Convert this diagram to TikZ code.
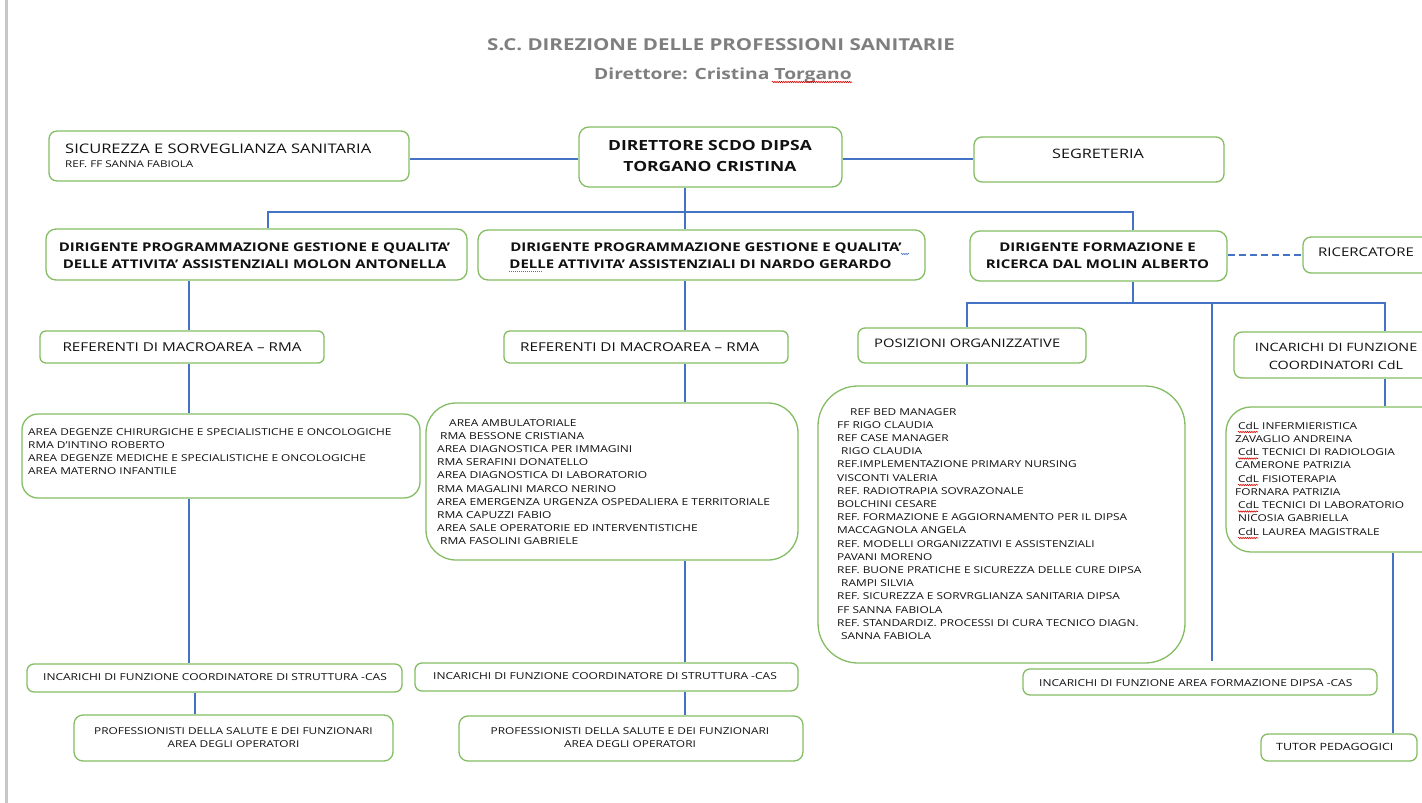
\documentclass[tikz,border=0pt]{standalone}
\usepackage{fontspec}
\setmainfont[FakeStretch=1.25]{Open Sans}
\usetikzlibrary{calc,decorations.pathmorphing}
\definecolor{gr}{HTML}{84BD63}
\definecolor{bl}{HTML}{4472C4}
\definecolor{tg}{HTML}{7F7F7F}
\definecolor{tx}{HTML}{111111}
\newcommand\fsz[1]{\fontsize{#1}{#1}\selectfont}
\begin{document}
\begin{tikzpicture}[x=1pt,y=-1pt,
  box/.style={draw=gr, line width=1.3pt, fill=white, inner sep=0pt, rounded corners=8pt},
  conn/.style={draw=bl, line width=2.6pt},
  tl/.style={inner sep=0pt, anchor=base west, text=tx},
  tc/.style={inner sep=0pt, anchor=base, text=tx},
  wavy/.style={draw=red!85!black, line width=0.6pt, decorate, decoration={snake, segment length=2.2pt, amplitude=0.7pt}}]
\clip (0,0) rectangle (1422,803);
\fill[white] (0,0) rectangle (1422,803);
\fill[black!22] (5,0) rectangle (8,803);

% title
\node[tc, text=tg, font=\fsz{16.4}\bfseries] (title) at (721,50) {S.C. DIREZIONE DELLE PROFESSIONI SANITARIE};
\node[tc, text=tg, font=\fsz{15.4}\bfseries] (subtitle) at (723,79) {Direttore: Cristina Torgano};
\draw[wavy] ($(subtitle.base east)+(-80,3)$) -- ($(subtitle.base east)+(0,3)$);

% boxes
\node[box, minimum width=360, minimum height=50] (sic) at (229,156) {};
\node[box, rounded corners=10pt, minimum width=263, minimum height=60] (dir) at (710.5,157) {};
\node[box, minimum width=250, minimum height=45] (seg) at (1099,159.5) {};
\node[box, rounded corners=10pt, minimum width=421, minimum height=51] (d1) at (256.5,254.5) {};
\node[box, rounded corners=10pt, minimum width=447, minimum height=50] (d2) at (701.5,255) {};
\node[box, rounded corners=10pt, minimum width=257, minimum height=50] (d3) at (1098.5,256) {};
\node[box, minimum width=137, minimum height=36] (ric) at (1371.5,255) {};
\node[box, rounded corners=6pt, minimum width=284, minimum height=32] (r1) at (182,347) {};
\node[box, rounded corners=6pt, minimum width=284, minimum height=32] (r2) at (646,347) {};
\node[box, rounded corners=7pt, minimum width=228, minimum height=35] (pos) at (972,345.5) {};
\node[box, rounded corners=8pt, minimum width=206, minimum height=46] (cdlh) at (1337,355) {};
\node[box, rounded corners=16pt, minimum width=398, minimum height=84] (a1) at (221,456) {};
\node[box, rounded corners=30pt, minimum width=372, minimum height=157] (a2) at (612,481.5) {};
\node[box, rounded corners=40pt, minimum width=367, minimum height=277] (ref) at (1001.5,524.5) {};
\node[box, rounded corners=25pt, minimum width=224, minimum height=145] (cdl) at (1338,479.5) {};
\node[box, rounded corners=7pt, minimum width=375, minimum height=28] (i1) at (214.5,678) {};
\node[box, rounded corners=7pt, minimum width=383, minimum height=28] (i2) at (606.5,677) {};
\node[box, rounded corners=7pt, minimum width=354, minimum height=26] (i3) at (1200,682) {};
\node[box, rounded corners=9pt, minimum width=319, minimum height=46] (p1) at (233.5,738) {};
\node[box, rounded corners=9pt, minimum width=344, minimum height=45] (p2) at (631,738.5) {};
\node[box, rounded corners=7pt, minimum width=156, minimum height=27] (tut) at (1339,747.5) {};

% helper coordinates
\coordinate (yTop) at (0,159);
\coordinate (bus1) at (0,212);
\coordinate (bus2) at (0,303);
\coordinate (yD) at (0,255);
\coordinate (xA) at (189,0);
\coordinate (xA0) at (268,0);
\coordinate (xA2) at (195,0);
\coordinate (xB) at (685,0);
\coordinate (xC) at (1133,0);
\coordinate (xP) at (967,0);
\coordinate (xM) at (1212,0);
\coordinate (xR) at (1385,0);
\coordinate (xT) at (1393,0);

% connectors
\draw[conn] (sic.east |- yTop) -- (dir.west |- yTop);
\draw[conn] (dir.east |- yTop) -- (seg.west |- yTop);
\draw[conn] (dir.south -| xB) -- (bus1 -| xB);
\draw[conn] (d1.north -| xA0) |- (bus1 -| xC) -- (d3.north -| xC);
\draw[conn] (bus1 -| xB) -- (d2.north -| xB);
\draw[conn, dash pattern=on 7pt off 4pt, line width=2pt] (d3.east |- yD) -- (ric.west |- yD);
\draw[conn] (d1.south -| xA) -- (r1.north -| xA);
\draw[conn] (r1.south -| xA) -- (a1.north -| xA);
\draw[conn] (a1.south -| xA) -- (i1.north -| xA);
\draw[conn] (i1.south -| xA2) -- (p1.north -| xA2);
\draw[conn] (d2.south -| xB) -- (r2.north -| xB);
\draw[conn] (r2.south -| xB) -- (a2.north -| xB);
\draw[conn] (a2.south -| xB) -- (i2.north -| xB);
\draw[conn] (i2.south -| xB) -- (p2.north -| xB);
\draw[conn] (d3.south -| xC) -- (bus2 -| xC);
\draw[conn] (pos.north -| xP) |- (bus2 -| xR) -- (cdlh.north -| xR);
\draw[conn, shorten >=7pt] (bus2 -| xM) -- (i3.north -| xM);
\draw[conn] (pos.south -| xP) -- (ref.north -| xP);
\draw[conn] (cdlh.south -| xR) -- (cdl.north -| xR);
\draw[conn] (cdl.south -| xT) -- (tut.north -| xT);

% texts
\node[tl, font=\fsz{13.2}] (sic1) at (65,153) {SICUREZZA E SORVEGLIANZA SANITARIA};
\node[tl, font=\fsz{9.3}] (sic2) at (65,167) {REF. FF SANNA FABIOLA};
\node[tc, font=\fsz{14}\bfseries] (dir1) at (710,150) {DIRETTORE SCDO DIPSA};
\node[tc, font=\fsz{14}\bfseries] (dir2) at (710,171) {TORGANO CRISTINA};
\node[tc, font=\fsz{13}] (seg1) at (1098,158) {SEGRETERIA};
\node[tc, font=\fsz{12}\bfseries] (d1a) at (254.5,251) {DIRIGENTE PROGRAMMAZIONE GESTIONE E QUALITA’};
\node[tc, font=\fsz{12}\bfseries] (d1b) at (254.5,268) {DELLE ATTIVITA’ ASSISTENZIALI MOLON ANTONELLA};
\node[tc, font=\fsz{12}\bfseries] (d2a) at (706,251) {DIRIGENTE PROGRAMMAZIONE GESTIONE E QUALITA’};
\node[tc, font=\fsz{12}\bfseries] (d2b) at (700.5,268) {DELLE ATTIVITA’ ASSISTENZIALI DI NARDO GERARDO};
\draw[wavy, draw=bl] ($(d2a.base east)+(-1,3)$) -- ($(d2a.base east)+(7,3)$);
\draw[draw=bl, line width=0.6pt, dash pattern=on 1pt off 1pt] ($(d2b.base west)+(0,3)$) -- ($(d2b.base west)+(34,3)$);
\node[tc, font=\fsz{12}\bfseries] (d3a) at (1097.5,251) {DIRIGENTE FORMAZIONE E};
\node[tc, font=\fsz{12}\bfseries] (d3b) at (1097.5,268) {RICERCA DAL MOLIN ALBERTO};
\node[tl, font=\fsz{12}] (ric1) at (1318,256) {RICERCATORE};
\node[tc, font=\fsz{12.2}] (r1t) at (182,351) {REFERENTI DI MACROAREA – RMA};
\node[tl, font=\fsz{12.2}] (r2t) at (520,351) {REFERENTI DI MACROAREA – RMA};
\node[tl, font=\fsz{11.8}] (post) at (874,347) {POSIZIONI ORGANIZZATIVE};
\node[tc, font=\fsz{11.5}] (cdlh1) at (1336,351) {INCARICHI DI FUNZIONE};
\node[tc, font=\fsz{11.5}] (cdlh2) at (1336,369) {COORDINATORI CdL};

\foreach \t [count=\i from 0] in {
  {AREA DEGENZE CHIRURGICHE E SPECIALISTICHE E ONCOLOGICHE},
  {RMA D’INTINO ROBERTO},
  {AREA DEGENZE MEDICHE E SPECIALISTICHE E ONCOLOGICHE},
  {AREA MATERNO INFANTILE}}
  \node[tl, font=\fsz{9.5}] (a1l\i) at (28,435+13.3*\i) {\t};

\foreach \t [count=\i from 0] in {
  {\hspace*{12pt}AREA AMBULATORIALE},
  {\hspace*{3pt}RMA BESSONE CRISTIANA},
  {AREA DIAGNOSTICA PER IMMAGINI},
  {RMA SERAFINI DONATELLO},
  {AREA DIAGNOSTICA DI LABORATORIO},
  {RMA MAGALINI MARCO NERINO},
  {AREA EMERGENZA URGENZA OSPEDALIERA E TERRITORIALE},
  {RMA CAPUZZI FABIO},
  {AREA SALE OPERATORIE ED INTERVENTISTICHE},
  {\hspace*{3pt}RMA FASOLINI GABRIELE}}
  \node[tl, font=\fsz{9.6}] (a2l\i) at (437,426+13.2*\i) {\t};

\foreach \t [count=\i from 0] in {
  {\hspace*{13pt}REF BED MANAGER},
  {FF RIGO CLAUDIA},
  {REF CASE MANAGER},
  {\hspace*{4pt}RIGO CLAUDIA},
  {REF.IMPLEMENTAZIONE PRIMARY NURSING},
  {VISCONTI VALERIA},
  {REF. RADIOTRAPIA SOVRAZONALE},
  {BOLCHINI CESARE},
  {REF. FORMAZIONE E AGGIORNAMENTO PER IL DIPSA},
  {MACCAGNOLA ANGELA},
  {REF. MODELLI ORGANIZZATIVI E ASSISTENZIALI},
  {PAVANI MORENO},
  {REF. BUONE PRATICHE E SICUREZZA DELLE CURE DIPSA},
  {\hspace*{4pt}RAMPI SILVIA},
  {REF. SICUREZZA E SORVRGLIANZA SANITARIA DIPSA},
  {FF SANNA FABIOLA},
  {REF. STANDARDIZ. PROCESSI DI CURA TECNICO DIAGN.},
  {\hspace*{4pt}SANNA FABIOLA}}
  \node[tl, font=\fsz{9.5}] (refl\i) at (837,415+13.2*\i) {\t};

\foreach \t [count=\i from 0] in {
  {\hspace*{3pt}CdL INFERMIERISTICA},
  {ZAVAGLIO ANDREINA},
  {\hspace*{3pt}CdL TECNICI DI RADIOLOGIA},
  {CAMERONE PATRIZIA},
  {\hspace*{3pt}CdL FISIOTERAPIA},
  {FORNARA PATRIZIA},
  {\hspace*{3pt}CdL TECNICI DI LABORATORIO},
  {\hspace*{3pt}NICOSIA GABRIELLA},
  {\hspace*{3pt}CdL LAUREA MAGISTRALE}}
  \node[tl, font=\fsz{9.5}] (cdll\i) at (1235,429+13.25*\i) {\t};
\foreach \i in {0,2,4,6,8}
  \draw[wavy] ($(cdll\i.base west)+(3,3)$) -- ($(cdll\i.base west)+(23,3)$);

\node[tc, font=\fsz{9.6}] (i1t) at (215,680) {INCARICHI DI FUNZIONE COORDINATORE DI STRUTTURA -CAS};
\node[tc, font=\fsz{9.6}] (i2t) at (605,679) {INCARICHI DI FUNZIONE COORDINATORE DI STRUTTURA -CAS};
\node[tl, font=\fsz{9.6}] (i3t) at (1039,686) {INCARICHI DI FUNZIONE AREA FORMAZIONE DIPSA -CAS};
\node[tc, font=\fsz{9.5}] (p1a) at (233.5,734) {PROFESSIONISTI DELLA SALUTE E DEI FUNZIONARI};
\node[tc, font=\fsz{9.5}] (p1b) at (233.5,747) {AREA DEGLI OPERATORI};
\node[tc, font=\fsz{9.5}] (p2a) at (630,734) {PROFESSIONISTI DELLA SALUTE E DEI FUNZIONARI};
\node[tc, font=\fsz{9.5}] (p2b) at (630,747) {AREA DEGLI OPERATORI};
\node[tl, font=\fsz{10}] (tutt) at (1276,750) {TUTOR PEDAGOGICI};
\end{tikzpicture}
\end{document}
